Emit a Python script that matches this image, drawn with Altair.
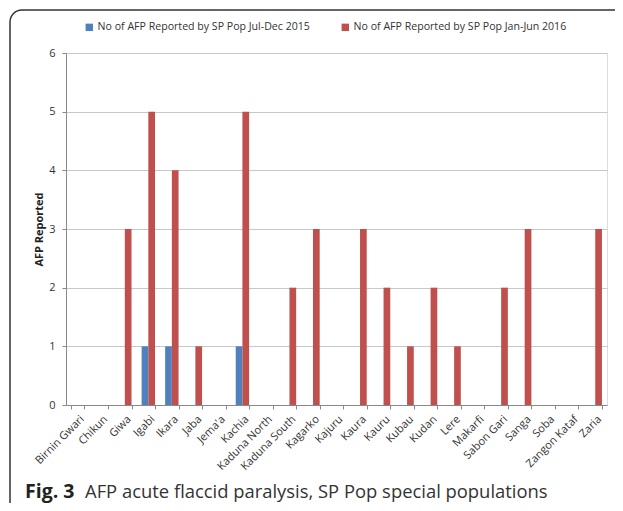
import altair as alt
import pandas as pd

districts = ["Birnin Gwari", "Chikun", "Giwa", "Igabi", "Ikara", "Jaba", "Jema'a", "Kachia",
             "Kaduna North", "Kaduna South", "Kagarko", "Kajuru", "Kaura", "Kauru", "Kubau",
             "Kudan", "Lere", "Makarfi", "Sabon Gari", "Sanga", "Soba", "Zangon Kataf", "Zaria"]
afp_2015 = [0, 0, 0, 1, 1, 0, 0, 1, 0, 0, 0, 0, 0, 0, 0, 0, 0, 0, 0, 0, 0, 0, 0]
afp_2016 = [0, 0, 3, 5, 4, 1, 0, 5, 0, 2, 3, 0, 3, 2, 1, 2, 1, 0, 2, 3, 0, 0, 3]
series = ["No of AFP Reported by SP Pop Jul-Dec 2015", "No of AFP Reported by SP Pop Jan-Jun 2016"]
colors = ["#4F81BD", "#C0504D"]
caption_bold = "Fig. 3"
caption_text = "AFP acute flaccid paralysis, SP Pop special populations"

rows = []
for d, a, b in zip(districts, afp_2015, afp_2016):
    rows.append({"district": d, "series": series[0], "value": a})
    rows.append({"district": d, "series": series[1], "value": b})
df = pd.DataFrame(rows)

FONT = "Open Sans"

bars = alt.Chart(df).mark_bar().encode(
    x=alt.X("district:N", sort=districts, title=None,
            scale=alt.Scale(paddingInner=0.43, paddingOuter=0.215),
            axis=alt.Axis(labelAngle=-45, labelAlign="right", labelBaseline="top",
                          labelFontSize=11, labelColor="#333333", labelFont=FONT,
                          domainColor="#888888", tickColor="#888888", tickSize=4,
                          tickBand="extent", labelPadding=4, grid=False)),
    xOffset=alt.XOffset("series:N", sort=series),
    y=alt.Y("value:Q", title="AFP Reported",
            scale=alt.Scale(domain=[0, 6]),
            axis=alt.Axis(values=[0, 1, 2, 3, 4, 5, 6], format="d",
                          labelFontSize=11, labelColor="#333333", labelFont=FONT,
                          labelPadding=7,
                          titleFont=FONT, titleFontSize=11, titleFontWeight="bold",
                          titleColor="#222222", titlePadding=4,
                          domainColor="#888888", tickColor="#888888", tickSize=4,
                          gridColor="#C8C8C8", gridWidth=1.2)),
    color=alt.Color("series:N", sort=series,
                    scale=alt.Scale(domain=series, range=colors),
                    legend=alt.Legend(title=None, orient="none", direction="horizontal",
                                      legendX=18, legendY=-31, symbolType="square",
                                      symbolSize=55, symbolStrokeWidth=0,
                                      labelFont=FONT, labelFontSize=10.6,
                                      labelColor="#333333", columnPadding=30,
                                      labelOffset=3, labelLimit=300)),
)

one = pd.DataFrame({"t": [1]})
frame = alt.Chart(one).mark_rect(fill=None, stroke="#333333", strokeWidth=1.5,
                                 cornerRadius=12).encode(
    x=alt.value(-56), x2=alt.value(600), y=alt.value(-43), y2=alt.value(470))
fig = alt.Chart(one).mark_text(align="left", baseline="alphabetic", font=FONT,
                               fontSize=19.5, fontWeight="bold", color="#222222").encode(
    x=alt.value(-41), y=alt.value(445), text=alt.value(caption_bold))
capt = alt.Chart(one).mark_text(align="left", baseline="alphabetic", font=FONT,
                                fontSize=18.4, color="#333333").encode(
    x=alt.value(19), y=alt.value(445), text=alt.value(caption_text))

chart = alt.layer(frame, bars, fig, capt).properties(
    width=541, height=352,
    autosize=alt.AutoSizeParams(type="none"),
    padding={"left": 58, "top": 45, "right": 8, "bottom": 98},
).configure_view(stroke=None).configure(background="white")

chart.save("out.html", embed_options={"renderer": "svg", "actions": False})
